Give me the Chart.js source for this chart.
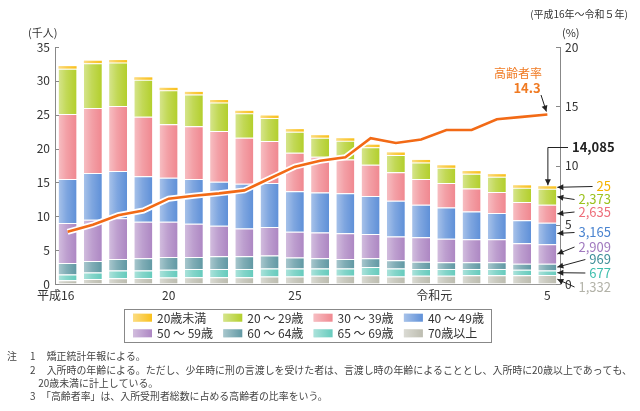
<!DOCTYPE html>
<html lang="ja">
<head>
<meta charset="utf-8">
<script src="https://cdn.jsdelivr.net/npm/chart.js@4"></script>
<style>
  html, body { margin: 0; padding: 0; background: #fff; }
  canvas { display: block; }
</style>
</head>
<body>
<canvas id="chart" width="640" height="411"></canvas>
<script>
// 入所受刑者の年齢層別構成（千人）と高齢者率（%） 平成16年～令和5年
const years = ["平成16", "17", "18", "19", "20", "21", "22", "23", "24", "25",
  "26", "27", "28", "29", "30", "令和元", "2", "3", "4", "5"];
const shownTicks = [0, 4, 9, 15, 19];

const under20 = [0.2, 0.2, 0.3, 0.3, 0.3, 0.3, 0.3, 0.3, 0.3, 0.3, 0.3, 0.3, 0.3, 0.3, 0.3, 0.3, 0.3, 0.3, 0.25, 0.025];
const age20s = [6.7, 6.6, 6.4, 5.45, 5.0, 4.7, 4.2, 3.6, 3.4, 3.1, 2.8, 2.75, 2.6, 2.55, 2.45, 2.25, 2.2, 2.25, 2.1, 2.373];
const age30s = [9.6, 9.6, 9.6, 8.8, 7.9, 7.8, 7.5, 6.8, 6.2, 5.7, 5.3, 5.0, 4.6, 4.2, 3.8, 3.6, 3.4, 3.1, 2.7, 2.635];
const age40s = [6.5, 6.9, 7.0, 6.7, 6.5, 6.6, 6.5, 6.6, 6.5, 6.0, 5.9, 5.9, 5.6, 5.3, 4.8, 4.6, 4.1, 3.9, 3.4, 3.165];
const age50s = [5.9, 6.1, 6.0, 5.4, 5.2, 4.9, 4.5, 4.1, 4.2, 3.8, 3.8, 3.8, 3.6, 3.5, 3.6, 3.5, 3.4, 3.4, 3.0, 2.909];
const age60to64 = [1.7, 1.7, 1.7, 1.8, 1.9, 1.8, 1.9, 1.9, 1.9, 1.6, 1.5, 1.4, 1.3, 1.2, 1.1, 1.0, 1.0, 1.0, 0.9, 0.969];
const age65to69 = [0.85, 0.95, 1.15, 1.1, 1.15, 1.2, 1.2, 1.2, 1.2, 1.2, 1.1, 1.1, 1.2, 1.2, 1.0, 1.0, 0.9, 0.9, 0.8, 0.677];
const age70plus = [0.55, 0.75, 0.85, 0.9, 0.95, 1.0, 1.0, 1.0, 1.1, 1.1, 1.2, 1.2, 1.3, 1.1, 1.2, 1.2, 1.3, 1.3, 1.3, 1.332];

const elderlyRate = [4.4, 5.0, 5.8, 6.2, 7.2, 7.45, 7.65, 7.9, 8.9, 9.9, 10.4, 10.7, 12.3, 11.9, 12.2, 13.0, 13.0, 13.9, 14.1, 14.3];

const leftTicks = [0, 5, 10, 15, 20, 25, 30, 35];
const rightTicks = [0, 5, 10, 15, 20];

const notes = [
  ["注", "1", "矯正統計年報による。"],
  ["", "2", "入所時の年齢による。ただし、少年時に刑の言渡しを受けた者は、言渡し時の年齢によることとし、入所時に20歳以上であっても、"],
  ["", "", "20歳未満に計上している。"],
  ["", "3", "「高齢者率」は、入所受刑者総数に占める高齢者の比率をいう。"],
];

// bottom of the stack first
const groups = [
  { label: "70歳以上", data: age70plus, color: "#bdbdb0", text: "#b2b2a8" },
  { label: "65 ～ 69歳", data: age65to69, color: "#66cbbd", text: "#3fbfae" },
  { label: "60 ～ 64歳", data: age60to64, color: "#6199a4", text: "#3f9099" },
  { label: "50 ～ 59歳", data: age50s, color: "#ad87c3", text: "#a17abf" },
  { label: "40 ～ 49歳", data: age40s, color: "#5f90d8", text: "#4a84d0" },
  { label: "30 ～ 39歳", data: age30s, color: "#f08890", text: "#ee6f7b" },
  { label: "20 ～ 29歳", data: age20s, color: "#b3cf2c", text: "#9cc21e" },
  { label: "20歳未満", data: under20, color: "#f9c01c", text: "#f5b300" },
];

const FONT = '"Noto Sans CJK JP", "Noto Sans", sans-serif';
Chart.defaults.font.family = FONT;
Chart.defaults.font.size = 12;
Chart.defaults.color = "#333";

function fmt(v) {
  return Math.round(v * 1000).toLocaleString("en-US");
}

function arrow(ctx, x1, y1, x2, y2) {
  ctx.beginPath();
  ctx.moveTo(x1, y1);
  ctx.lineTo(x2, y2);
  ctx.stroke();
  const a = Math.atan2(y2 - y1, x2 - x1);
  const l = 6, w = 3;
  ctx.beginPath();
  ctx.moveTo(x2, y2);
  ctx.lineTo(x2 - l * Math.cos(a) + w * Math.sin(a), y2 - l * Math.sin(a) - w * Math.cos(a));
  ctx.lineTo(x2 - l * Math.cos(a) - w * Math.sin(a), y2 - l * Math.sin(a) + w * Math.cos(a));
  ctx.closePath();
  ctx.fill();
}

// shine on the bars, axis ticks, notes, legend and call-outs
const decor = {
  id: "decor",
  afterDatasetDraw(chart, args) {
    if (args.meta.type !== "bar") return;
    const ctx = chart.ctx;
    ctx.save();
    args.meta.data.forEach((el) => {
      const { x, y, base, width } = el.getProps(["x", "y", "base", "width"], true);
      const left = x - width / 2;
      const g = ctx.createLinearGradient(left, 0, left + width, 0);
      g.addColorStop(0, "rgba(255,255,255,0.45)");
      g.addColorStop(0.45, "rgba(255,255,255,0.2)");
      g.addColorStop(1, "rgba(255,255,255,0)");
      ctx.fillStyle = g;
      ctx.fillRect(left, Math.min(y, base), width, Math.abs(base - y));
    });
    ctx.restore();
  },
  afterDraw(chart) {
    const ctx = chart.ctx;
    const area = chart.chartArea;
    const yS = chart.scales.y;
    const y1S = chart.scales.y1;
    ctx.save();

    // inward tick marks
    ctx.strokeStyle = "#888";
    ctx.lineWidth = 1;
    leftTicks.forEach((v) => {
      const py = Math.round(yS.getPixelForValue(v)) + 0.5;
      ctx.beginPath(); ctx.moveTo(area.left, py); ctx.lineTo(area.left + 4, py); ctx.stroke();
    });
    rightTicks.forEach((v) => {
      const py = Math.round(y1S.getPixelForValue(v)) + 0.5;
      ctx.beginPath(); ctx.moveTo(area.right - 4, py); ctx.lineTo(area.right, py); ctx.stroke();
    });

    // unit titles
    ctx.fillStyle = "#333";
    ctx.textBaseline = "middle";
    ctx.font = "11px " + FONT;
    ctx.textAlign = "left";
    ctx.fillText("(千人)", 28, 33);
    ctx.fillText("(%)", 562, 33);
    ctx.font = "10px " + FONT;
    ctx.textAlign = "right";
    ctx.fillText("(平成16年～令和５年)", 628, 14);

    // call-outs for the last year
    const last = years.length - 1;
    const metas = groups.map((g, i) => chart.getDatasetMeta(i));
    const lastEls = metas.map((m) => m.data[last]);
    const barRight = lastEls[0].x + lastEls[0].width / 2;
    const barX = lastEls[0].x;
    const labelY = [287, 273, 259.5, 247, 232.5, 212, 199.5, 186.5]; // bottom group first
    ctx.font = "13px " + FONT;
    ctx.lineWidth = 1;
    groups.forEach((g, i) => {
      const el = lastEls[i];
      const txt = fmt(g.data[last]);
      ctx.textAlign = "right";
      ctx.fillStyle = g.text;
      ctx.fillText(txt, 611, labelY[i]);
      const tw = ctx.measureText(txt).width;
      const tipY = i === groups.length - 1 ? el.y + 1 : (el.y + el.base) / 2;
      ctx.strokeStyle = "#222";
      ctx.fillStyle = "#222";
      arrow(ctx, 611 - tw - 4, labelY[i], barRight + 1, tipY);
    });

    // total
    const total = groups.reduce((s, g) => s + g.data[last], 0);
    const topY = lastEls[groups.length - 1].y;
    ctx.fillStyle = "#222";
    ctx.font = "bold 13px " + FONT;
    ctx.textAlign = "left";
    ctx.fillText(fmt(total), 572, 147);
    ctx.strokeStyle = "#222";
    ctx.beginPath();
    ctx.moveTo(568, 147.5);
    ctx.lineTo(barX + 0.5, 147.5);
    ctx.stroke();
    arrow(ctx, barX + 0.5, 147.5, barX + 0.5, topY - 1);

    // elderly rate label
    const lineMeta = chart.getDatasetMeta(groups.length + 1);
    const pt = lineMeta.data[last];
    ctx.fillStyle = "#f07a22";
    ctx.textAlign = "center";
    ctx.font = "12px " + FONT;
    ctx.fillText("高齢者率", 518, 73);
    ctx.font = "bold 13px " + FONT;
    ctx.fillText(elderlyRate[last].toFixed(1), 527, 88);
    ctx.fillStyle = "#222";
    arrow(ctx, 541, 95, pt.x - 1, pt.y - 3);

    // legend
    ctx.strokeStyle = "#888";
    ctx.strokeRect(124.5, 309.5, 367, 33);
    const legendOrder = groups.slice().reverse();
    ctx.font = "12px " + FONT;
    ctx.textAlign = "left";
    legendOrder.forEach((g, i) => {
      const col = i % 4, row = Math.floor(i / 4);
      const sx = 133 + col * 90.3;
      const sy = 317.7 + row * 15.6;
      ctx.fillStyle = g.color;
      ctx.fillRect(sx, sy - 4, 19, 8);
      const sg = ctx.createLinearGradient(sx, 0, sx + 19, 0);
      sg.addColorStop(0, "rgba(255,255,255,0.45)");
      sg.addColorStop(1, "rgba(255,255,255,0)");
      ctx.fillStyle = sg;
      ctx.fillRect(sx, sy - 4, 19, 8);
      ctx.fillStyle = "#333";
      ctx.fillText(g.label, sx + 24, sy + 0.5);
    });

    // notes: the long line is fitted to the width it has in the original
    ctx.fillStyle = "#444";
    ctx.font = "10px " + FONT;
    const fit = 586 / ctx.measureText(notes[1][2]).width;
    ctx.font = (10 * fit).toFixed(2) + "px " + FONT;
    const noteY = [356, 370, 383, 396];
    const noteX = [46.7, 46.7, 38.3, 41];
    notes.forEach((n, i) => {
      if (n[0]) ctx.fillText(n[0], 7, noteY[i]);
      if (n[1]) ctx.fillText(n[1], 30, noteY[i]);
      ctx.fillText(n[2], noteX[i], noteY[i]);
    });

    ctx.restore();
  },
};

const barSets = groups.map((g, i) => ({
  type: "bar",
  label: g.label,
  data: g.data,
  backgroundColor: g.color,
  borderColor: "rgba(255,255,255,0.85)",
  borderWidth: i === groups.length - 1 ? 0 : { top: 1, left: 0, right: 0, bottom: 0 },
  borderSkipped: "start",
  minBarLength: i === groups.length - 1 ? 2.5 : 0,
  yAxisID: "y",
  stack: "age",
  order: 2,
  barPercentage: 0.71,
  categoryPercentage: 1,
}));

new Chart(document.getElementById("chart"), {
  data: {
    labels: years,
    datasets: [
      ...barSets,
      {
        type: "line",
        label: "高齢者率（縁）",
        data: elderlyRate,
        yAxisID: "y1",
        borderColor: "#ffffff",
        borderWidth: 6,
        pointRadius: 0,
        order: 1,
      },
      {
        type: "line",
        label: "高齢者率",
        data: elderlyRate,
        yAxisID: "y1",
        borderColor: "#f26a16",
        borderWidth: 2.6,
        pointRadius: 0,
        order: 0,
      },
    ],
  },
  options: {
    responsive: false,
    animation: false,
    devicePixelRatio: 1,
    layout: { padding: { top: 47, left: 0, right: 0, bottom: 0 } },
    plugins: {
      legend: { display: false },
      tooltip: { enabled: false },
    },
    scales: {
      x: {
        stacked: true,
        grid: { display: false, drawTicks: false },
        border: { display: true, color: "#999" },
        ticks: {
          autoSkip: false,
          maxRotation: 0,
          padding: 4,
          color: "#333",
          font: { size: 12 },
          callback: (v, i) => {
            if (!shownTicks.includes(i)) return "";
            const t = years[i];
            return t.length > 2 ? t + "\u3000\u3000" : t;
          },
        },
        afterFit: (s) => { s.height = 127; },
      },
      y: {
        stacked: true,
        min: 0,
        max: 35,
        ticks: { stepSize: 5, padding: 5, color: "#333", font: { size: 12 } },
        grid: { drawOnChartArea: false, drawTicks: false },
        border: { color: "#888" },
        afterFit: (s) => { s.width = 55; },
      },
      y1: {
        position: "right",
        min: 0,
        max: 20,
        ticks: { stepSize: 5, padding: 5, color: "#333", font: { size: 12 } },
        grid: { drawOnChartArea: false, drawTicks: false },
        border: { color: "#888" },
        afterFit: (s) => { s.width = 80; },
      },
    },
  },
  plugins: [decor],
});
</script>
</body>
</html>
